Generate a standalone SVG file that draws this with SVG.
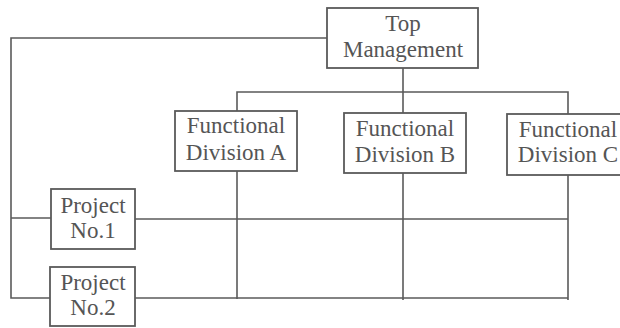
<svg xmlns="http://www.w3.org/2000/svg" width="620" height="328" viewBox="0 0 620 328">
<style>
.box{fill:#fff;stroke:#5a5a5a;stroke-width:1.8}
.ln{fill:none;stroke:#5a5a5a;stroke-width:1.6}
.t{font-family:'Liberation Serif','DejaVu Serif',serif;font-size:23px;fill:#555;text-anchor:middle}
</style>
<rect width="620" height="328" fill="#fff"/>
<g id="connectors">
<path class="ln" d="M327 38 H11 V298 H50"/>
<path class="ln" d="M11 218 H51"/>
<path class="ln" d="M403 68 V92"/>
<path class="ln" d="M237 111 V92 H568 V114"/>
<path class="ln" d="M403 92 V113"/>
<path class="ln" d="M237 171 V299"/>
<path class="ln" d="M403 173 V300"/>
<path class="ln" d="M568 175 V300"/>
<path class="ln" d="M135 219 H568"/>
<path class="ln" d="M135 298 H568"/>
</g>
<g id="top" class="t" font-family="Liberation Serif, serif">
<rect class="box" x="327" y="8" width="151" height="60"/>
<text x="403" y="31">Top</text>
<text x="403" y="57">Management</text>
</g>
<g id="divA" class="t" font-family="Liberation Serif, serif">
<rect class="box" x="175" y="111" width="122" height="60"/>
<text x="236" y="133">Functional</text>
<text x="236" y="160">Division A</text>
</g>
<g id="divB" class="t" font-family="Liberation Serif, serif">
<rect class="box" x="344" y="113" width="122" height="60"/>
<text x="405" y="136">Functional</text>
<text x="405" y="162">Division B</text>
</g>
<g id="divC" class="t" font-family="Liberation Serif, serif">
<rect class="box" x="507" y="114" width="122" height="61"/>
<text x="568" y="137">Functional</text>
<text x="568" y="162">Division C</text>
</g>
<g id="proj1" class="t" font-family="Liberation Serif, serif">
<rect class="box" x="51" y="189" width="84" height="60"/>
<text x="93" y="213">Project</text>
<text x="93" y="238">No.1</text>
</g>
<g id="proj2" class="t" font-family="Liberation Serif, serif">
<rect class="box" x="50" y="267" width="85" height="59"/>
<text x="93" y="290">Project</text>
<text x="93" y="315">No.2</text>
</g>
</svg>
